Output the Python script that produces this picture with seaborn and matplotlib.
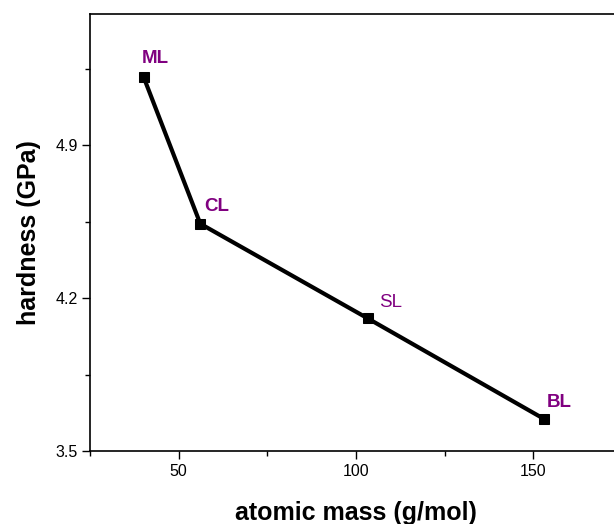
import seaborn as sns
import matplotlib.pyplot as plt
import pandas as pd

LABELS = ['ML', 'CL', 'SL', 'BL']
ATOMIC_MASS = [40.1, 56.1, 103.3, 153.1]
HARDNESS = [5.212, 4.54, 4.107, 3.646]
LABEL_BOLD = [True, True, False, True]
LABEL_OFFSET = [(-1, 7), (3, 6), (8, 5), (2, 6)]

sns.set_style("ticks")
plt.rcParams['font.family'] = ['Liberation Sans', 'DejaVu Sans']
plt.rcParams['text.color'] = 'black'
plt.rcParams['axes.labelcolor'] = 'black'
plt.rcParams['xtick.color'] = 'black'
plt.rcParams['ytick.color'] = 'black'

df = pd.DataFrame({'mass': ATOMIC_MASS, 'hardness': HARDNESS})

fig = plt.figure(figsize=(6.14, 5.24), dpi=100)
ax = fig.add_axes([0.1466, 0.1393, 0.8664, 0.834])
sns.lineplot(data=df, x='mass', y='hardness', ax=ax, color='black', linewidth=3,
             marker='s', markersize=7.5, markeredgecolor='black')

for name, x, y, bold, off in zip(LABELS, ATOMIC_MASS, HARDNESS, LABEL_BOLD, LABEL_OFFSET):
    ax.annotate(name, (x, y), xytext=off, textcoords='offset points',
                color='#800080', fontsize=13.5, fontweight='bold' if bold else 'normal',
                ha='left', va='bottom')

ax.set_xlim(25, 175)
ax.set_ylim(3.5, 5.5)
ax.set_xticks([50, 100, 150])
ax.set_xticks([25, 75, 125, 175], minor=True)
ax.set_yticks([3.5, 4.2, 4.9])
ax.set_yticks([3.85, 4.55, 5.25], minor=True)
ax.tick_params(which='major', direction='out', length=5.5, width=1, labelsize=11.5)
ax.tick_params(which='minor', direction='out', length=3.5, width=1)
for s in ax.spines.values():
    s.set_linewidth(1.2)
    s.set_color('black')

ax.set_xlabel('atomic mass (g/mol)', fontsize=18, fontweight='bold', labelpad=16)
ax.set_ylabel('hardness (GPa)', fontsize=18, fontweight='bold', labelpad=10)

fig.savefig('out.png', dpi=100)
